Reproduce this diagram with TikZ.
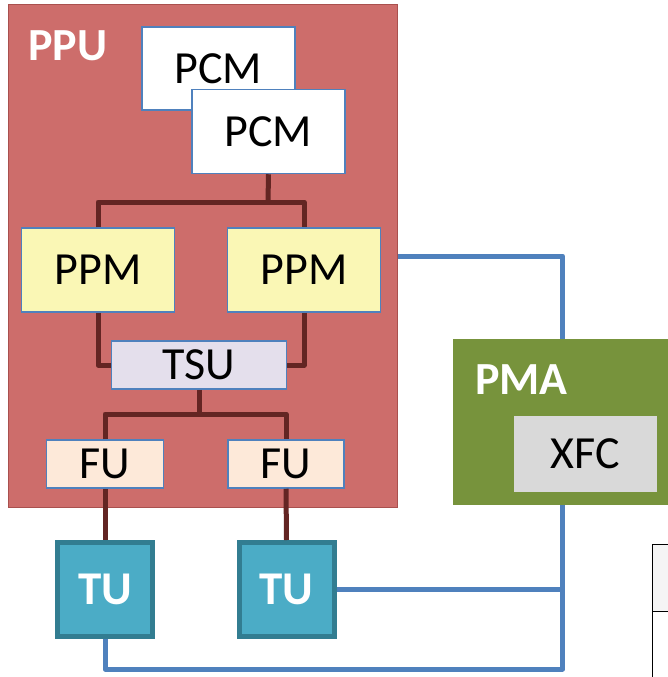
\documentclass[tikz,border=0pt]{standalone}
\usepackage{fontspec}
\setmainfont{Carlito}
\usepackage{xcolor}
\usepackage{tikz}

\definecolor{ppured}{HTML}{CD6D6B}
\definecolor{ppuedge}{HTML}{A9504E}
\definecolor{boxedge}{HTML}{4F81BD}
\definecolor{ppmfill}{HTML}{FAF7B5}
\definecolor{tsufill}{HTML}{E4DFEC}
\definecolor{fufill}{HTML}{FDE9D9}
\definecolor{tufill}{HTML}{4BACC6}
\definecolor{tuedge}{HTML}{327D91}
\definecolor{pmagreen}{HTML}{77933C}
\definecolor{xfcgray}{HTML}{D9D9D9}
\definecolor{wirebrown}{HTML}{632523}
\definecolor{wireblue}{HTML}{4F81BD}

\tikzset{
  unit/.style={draw=boxedge, line width=1.5pt, inner sep=0pt,
    font=\fontsize{46}{50}\selectfont},
  tubox/.style={draw=tuedge, line width=5pt, fill=tufill, inner sep=0pt,
    text=white, font=\fontsize{47}{50}\selectfont\bfseries,
    minimum width=95pt, minimum height=94pt},
  biglabel/.style={anchor=base west, inner sep=0pt, text=white,
    font=\fontsize{46}{50}\selectfont\bfseries},
  brownwire/.style={draw=wirebrown, line width=5pt, line join=round},
  bluewire/.style={draw=wireblue, line width=5pt, line join=round}
}

\begin{document}
\begin{tikzpicture}[x=1pt, y=-1pt]
  \useasboundingbox (0,0) rectangle (668,677);

  % processing unit
  \node[draw=ppuedge, line width=1pt, fill=ppured, minimum width=389pt,
        minimum height=502pt, inner sep=0pt] (ppu) at (202.5,256) {};
  \node[biglabel] (ppulabel) at (28,60) {PPU};

  \node[unit, fill=white, minimum width=153pt, minimum height=83pt] (pcmA) at (218.5,68.5) {PCM};
  \node[unit, fill=white, minimum width=153pt, minimum height=84pt] (pcmB) at (268.5,131.5) {PCM};

  \node[unit, fill=ppmfill, minimum width=153pt, minimum height=84pt] (ppmL) at (98,270) {PPM};
  \node[unit, fill=ppmfill, minimum width=153pt, minimum height=84pt] (ppmR) at (304,270) {PPM};

  \node[unit, fill=tsufill, minimum width=175pt, minimum height=48pt] (tsu) at (199,365) {TSU};

  \node[unit, fill=fufill, minimum width=117pt, minimum height=48pt] (fuL) at (105,464) {FU};
  \node[unit, fill=fufill, minimum width=116pt, minimum height=48pt] (fuR) at (286,464) {FU};

  \node[tubox] (tuL) at (105,589.5) {TU};
  \node[tubox] (tuR) at (286.5,589.5) {TU};

  % memory side
  \node[fill=pmagreen, minimum width=219pt, minimum height=166pt, inner sep=0pt] (pma) at (562.5,422) {};
  \node[biglabel] (pmalabel) at (475,394) {PMA};
  \node[fill=xfcgray, minimum width=143pt, minimum height=76pt, inner sep=0pt,
        font=\fontsize{46}{50}\selectfont] (xfc) at (585.5,454) {XFC};

  % brown links
  \coordinate (splitA) at (268,202);
  \coordinate (splitB) at (199,414);
  \draw[brownwire] (pcmB.south) -- (splitA);
  \draw[brownwire] (ppmL.north) |- (splitA) -| (ppmR.north);
  \draw[brownwire] (ppmL.south) |- (tsu.west);
  \draw[brownwire] (ppmR.south) |- (tsu.east);
  \draw[brownwire] (tsu.south) -- (splitB);
  \draw[brownwire] (fuL.north) |- (splitB) -| (fuR.north);
  \draw[brownwire] (fuL.south) -- (tuL.north);
  \draw[brownwire] (fuR.south) -- (tuR.north);

  % blue links
  \coordinate (corner) at (562.5,669);
  \draw[bluewire] (ppu.east) -| (pma.north);
  \draw[bluewire] (pma.south) -- (corner) -| (tuL.south);
  \draw[bluewire] (tuR.east) -- (tuR.east -| pma.south);

  % edge of the next table
  \draw[fill=gray!8, line width=0.8pt] (652,544) rectangle (690,611);
  \draw[line width=0.8pt] (652,611) rectangle (690,700);
\end{tikzpicture}
\end{document}
